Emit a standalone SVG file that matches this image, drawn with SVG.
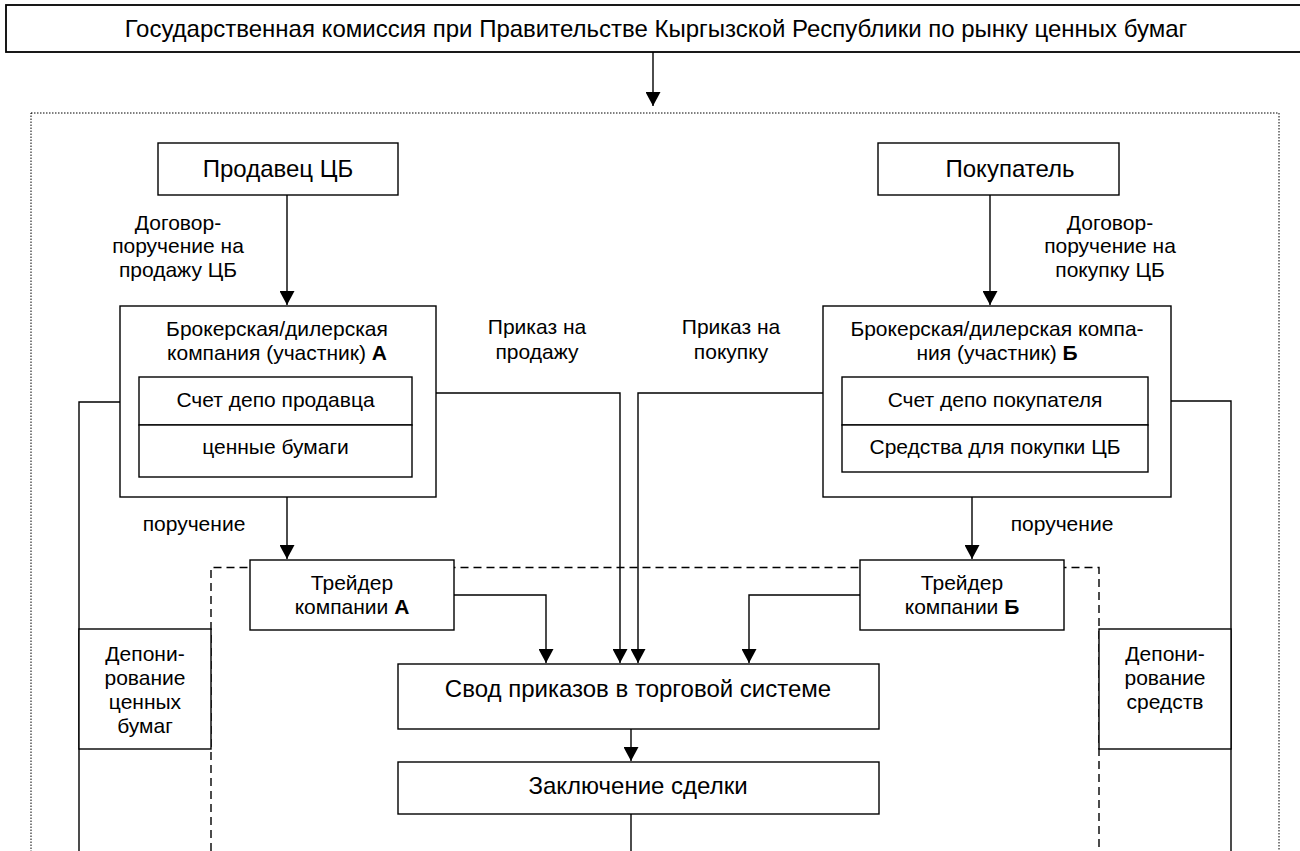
<svg xmlns="http://www.w3.org/2000/svg" width="1300" height="851" viewBox="0 0 1300 851">
<style>
  text { font-family: "Liberation Sans", Arial, sans-serif; fill: #000; text-anchor: middle; }
  .big { font-size: 24px; }
  .sm { font-size: 21px; }
  .box { fill: #fff; stroke: #000; stroke-width: 1.4; }
  .ln { fill: none; stroke: #000; stroke-width: 1.4; }
  .arr { fill: none; stroke: #000; stroke-width: 1.4; marker-end: url(#ah); }
  .dash { fill: none; stroke: #000; stroke-width: 1.4; stroke-dasharray: 8 5; }
  .dot { fill: none; stroke: #000; stroke-width: 1; stroke-dasharray: 1.5 1.5; }
  .b { font-weight: bold; }
</style>
<defs>
  <marker id="ah" markerUnits="userSpaceOnUse" markerWidth="15" markerHeight="15" viewBox="0 0 14 15" refX="14" refY="7.5" orient="auto">
    <path d="M0,0 L14,7.5 L0,15 Z" fill="#000"/>
  </marker>
</defs>
<rect width="1300" height="851" fill="#fff"/>

<g id="frames">
  <rect class="dot" x="31" y="113" width="1248" height="800"/>
  <path class="dash" d="M211,851 V567.5 H1099 V851"/>
</g>

<g id="connectors">
  <path class="arr" d="M653,52 V106"/>
  <path class="arr" d="M287,195 V305"/>
  <path class="arr" d="M990,195 V305"/>
  <path class="arr" d="M287,497 V559"/>
  <path class="arr" d="M972,497 V559"/>
  <path class="arr" d="M436,393 H620 V663"/>
  <path class="arr" d="M823,393 H638 V663"/>
  <path class="arr" d="M454,595 H546 V663"/>
  <path class="arr" d="M860,595 H749 V663"/>
  <path class="arr" d="M631,729 V761"/>
  <path class="ln" d="M631,814 V851"/>
  <path class="ln" d="M120,402 H79 V851"/>
  <path class="ln" d="M1171,401 H1231 V851"/>
</g>

<g id="labels">
  <text class="sm" x="178" y="230">Договор-</text>
  <text class="sm" x="178" y="253">поручение на</text>
  <text class="sm" x="178" y="277">продажу ЦБ</text>
  <text class="sm" x="1110" y="230">Договор-</text>
  <text class="sm" x="1110" y="253">поручение на</text>
  <text class="sm" x="1110" y="277">покупку ЦБ</text>
  <text class="sm" x="537" y="334">Приказ на</text>
  <text class="sm" x="537" y="359">продажу</text>
  <text class="sm" x="731" y="334">Приказ на</text>
  <text class="sm" x="731" y="359">покупку</text>
  <text class="sm" x="194" y="531">поручение</text>
  <text class="sm" x="1062" y="531">поручение</text>
</g>

<g id="commission">
  <rect class="box" x="6" y="5" width="1300" height="47" style="stroke-width:1.8"/>
  <text class="big" x="656" y="37">Государственная комиссия при Правительстве Кыргызской Республики по рынку ценных бумаг</text>
</g>

<g id="seller">
  <rect class="box" x="158" y="143" width="240" height="52"/>
  <text class="big" x="278" y="177">Продавец ЦБ</text>
</g>

<g id="buyer">
  <rect class="box" x="878" y="143" width="241" height="52"/>
  <text class="big" x="1010" y="177">Покупатель</text>
</g>

<g id="broker-a">
  <rect class="box" x="120" y="306" width="316" height="191"/>
  <text class="sm" x="277" y="336">Брокерская/дилерская</text>
  <text class="sm" x="277" y="360">компания (участник) <tspan class="b">А</tspan></text>
  <rect class="box" x="139" y="377" width="273" height="48"/>
  <text class="sm" x="275.5" y="407">Счет депо продавца</text>
  <rect class="box" x="139" y="425" width="273" height="52"/>
  <text class="sm" x="275.5" y="454">ценные бумаги</text>
</g>

<g id="broker-b">
  <rect class="box" x="823" y="306" width="348" height="191"/>
  <text class="sm" x="997" y="336">Брокерская/дилерская компа-</text>
  <text class="sm" x="997" y="360">ния (участник) <tspan class="b">Б</tspan></text>
  <rect class="box" x="842" y="377" width="306" height="48"/>
  <text class="sm" x="995" y="407">Счет депо покупателя</text>
  <rect class="box" x="842" y="425" width="306" height="47"/>
  <text class="sm" x="995" y="454">Средства для покупки ЦБ</text>
</g>

<g id="trader-a">
  <rect class="box" x="250" y="560" width="204" height="70"/>
  <text class="sm" x="352" y="590">Трейдер</text>
  <text class="sm" x="352" y="614">компании <tspan class="b">А</tspan></text>
</g>

<g id="trader-b">
  <rect class="box" x="860" y="560" width="204" height="70"/>
  <text class="sm" x="962" y="590">Трейдер</text>
  <text class="sm" x="962" y="614">компании <tspan class="b">Б</tspan></text>
</g>

<g id="depo-securities">
  <rect class="box" x="79" y="629" width="132" height="120"/>
  <text class="sm" x="145" y="661">Депони-</text>
  <text class="sm" x="145" y="685">рование</text>
  <text class="sm" x="145" y="709">ценных</text>
  <text class="sm" x="145" y="733">бумаг</text>
</g>

<g id="depo-funds">
  <rect class="box" x="1099" y="629" width="132" height="120"/>
  <text class="sm" x="1165" y="661">Депони-</text>
  <text class="sm" x="1165" y="685">рование</text>
  <text class="sm" x="1165" y="709">средств</text>
</g>

<g id="order-book">
  <rect class="box" x="398" y="664" width="481" height="65"/>
  <text class="big" x="638" y="697">Свод приказов в торговой системе</text>
</g>

<g id="deal">
  <rect class="box" x="398" y="762" width="481" height="52"/>
  <text class="big" x="638" y="794">Заключение сделки</text>
</g>
</svg>
